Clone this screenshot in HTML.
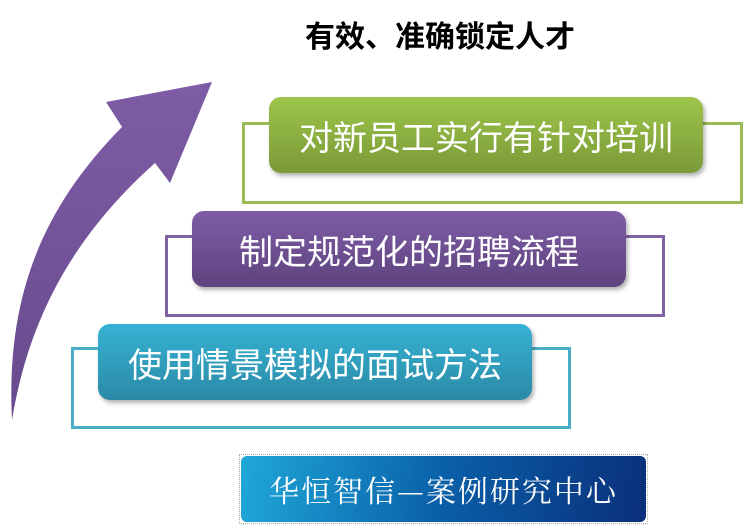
<!DOCTYPE html>
<html><head><meta charset="utf-8"><style>
body{margin:0;width:744px;height:526px;background:#fff;position:relative;overflow:hidden;font-family:"Liberation Sans","Noto Sans CJK SC",sans-serif}
.o{position:absolute;box-sizing:border-box;border:3px solid}
.b{position:absolute;box-sizing:border-box;border-radius:12px;color:#fff;font-size:34px;display:flex;align-items:center;justify-content:center;box-shadow:2px 3px 4px rgba(0,0,0,.3);letter-spacing:0px}
</style></head><body>
<div style="position:absolute;left:260px;top:12px;width:360px;text-align:center;font-size:30px;font-weight:bold;color:#000">有效、准确锁定人才</div>
<svg style="position:absolute;left:0;top:0" width="744" height="526">
<defs><linearGradient id="ag" x1="0" y1="0" x2="0" y2="1"><stop offset="0" stop-color="#7e5ca6"/><stop offset="1" stop-color="#674a8c"/></linearGradient></defs>
<path d="M12,420 C6,300 40,210 122,127 L106,102 L212,82 L170,183 L155,163 C80,230 30,310 12,420 Z" fill="url(#ag)"/>
</svg>
<div class="o" style="left:242px;top:122px;width:501px;height:82px;border-color:#9bbb59"></div>
<div class="b" style="left:269px;top:97px;width:434px;height:76px;background:linear-gradient(#9dc54a,#7a9a38)">对新员工实行有针对培训</div>
<div class="o" style="left:165px;top:235px;width:500px;height:82px;border-color:#8064a2"></div>
<div class="b" style="left:192px;top:211px;width:434px;height:76px;background:linear-gradient(#7e5ca6,#5f447f)">制定规范化的招聘流程</div>
<div class="o" style="left:71px;top:347px;width:500px;height:82px;border-color:#4bacc6"></div>
<div class="b" style="left:98px;top:324px;width:434px;height:76px;background:linear-gradient(#37b2d4,#2a8aa6)">使用情景模拟的面试方法</div>
<div style="position:absolute;left:239px;top:454px;width:409px;height:70px;border:1px dotted #aaa;box-sizing:border-box"></div>
<div style="position:absolute;left:241px;top:456px;width:405px;height:66px;border-radius:6px;background:linear-gradient(100deg,#1fa8d8,#0a5fa8 50%,#0a2f7a);color:#fff;font-family:'Noto Serif CJK SC',serif;font-size:30px;display:flex;align-items:center;justify-content:center;letter-spacing:2px">华恒智信—案例研究中心</div>
</body></html>
